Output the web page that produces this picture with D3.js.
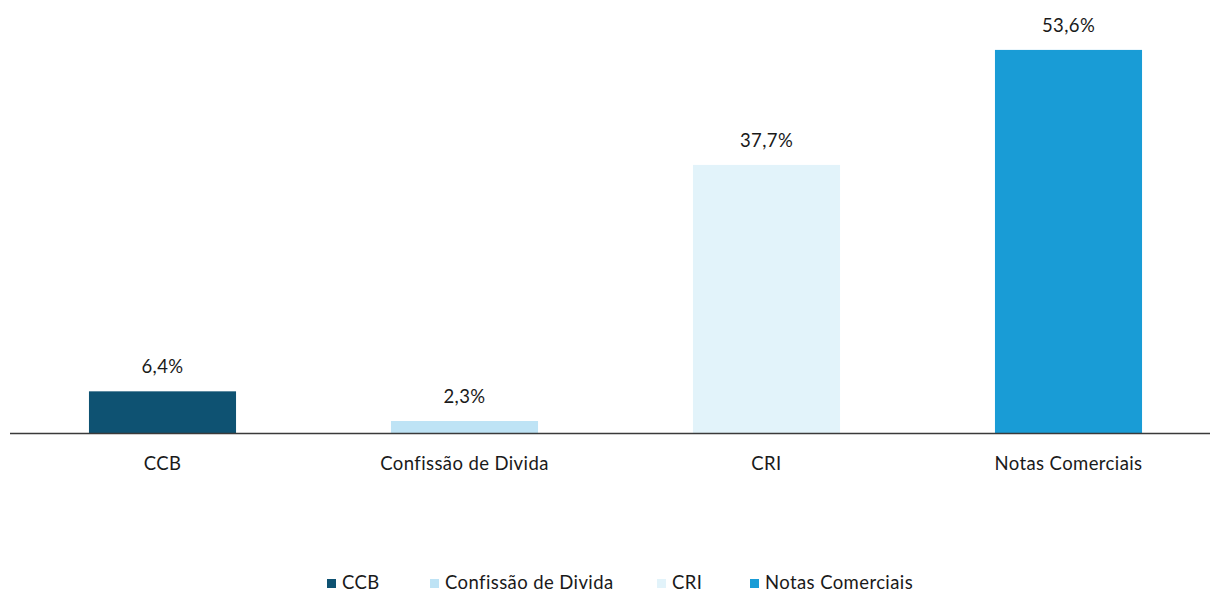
<!DOCTYPE html>
<html>
<head>
<meta charset="utf-8">
<script src="https://cdn.jsdelivr.net/npm/d3@7"></script>
<style>
  html, body { margin: 0; padding: 0; background: #ffffff; }
  svg { display: block; }
  text { font-family: Lato, "Open Sans", sans-serif; fill: #1a1a1a; letter-spacing: 0.4px; }
</style>
</head>
<body>
<svg id="chart" width="1210" height="592"></svg>
<script>
const categories = ["CCB", "Confissão de Divida", "CRI", "Notas Comerciais"];
const values = [6.4, 2.3, 37.7, 53.6];
const valueLabels = ["6,4%", "2,3%", "37,7%", "53,6%"];
const colors = ["#0E5272", "#BEE3F5", "#E2F3FA", "#199CD6"];

const W = 1210, H = 592;
const svg = d3.select("#chart");
const baseY = 433;
const FS = 18.5;

const x = d3.scaleBand()
  .domain(categories)
  .range([11.5, 1219.5])
  .paddingInner(0.513)
  .paddingOuter(0.2565);

const y = d3.scaleLinear()
  .domain([0.64, 60.5])
  .range([baseY, 0]);

const color = d3.scaleOrdinal().domain(categories).range(colors);

const data = categories.map((c, i) => ({ c, v: values[i], label: valueLabels[i] }));

// bars
svg.append("g").selectAll("rect")
  .data(data)
  .join("rect")
  .attr("x", d => x(d.c))
  .attr("y", d => y(d.v))
  .attr("width", x.bandwidth())
  .attr("height", d => baseY - y(d.v))
  .attr("fill", d => color(d.c));

// value labels
svg.append("g").selectAll("text")
  .data(data)
  .join("text")
  .attr("x", d => x(d.c) + x.bandwidth() / 2)
  .attr("y", d => y(d.v) - 18)
  .attr("text-anchor", "middle")
  .attr("font-size", FS)
  .text(d => d.label);

// x axis
const xAxis = d3.axisBottom(x).tickSize(0).tickPadding(0);
const gx = svg.append("g").attr("transform", `translate(0,${baseY})`).call(xAxis);
gx.select(".domain").remove();
gx.selectAll("text")
  .attr("font-size", FS)
  .attr("dy", null)
  .attr("y", 37)
  .style("font-family", "Lato")
  .attr("fill", "#1a1a1a");
svg.append("line")
  .attr("x1", 10).attr("x2", 1210)
  .attr("y1", baseY + 0.5).attr("y2", baseY + 0.5)
  .attr("stroke", "#3a3a3a").attr("stroke-width", 1.5);

// legend
const legendX = [327, 430, 657, 750];
const lg = svg.append("g").attr("transform", "translate(0,583)");
const items = lg.selectAll("g").data(categories).join("g")
  .attr("transform", (d, i) => `translate(${legendX[i]},0)`);
items.append("rect")
  .attr("x", 0).attr("y", -4).attr("width", 9).attr("height", 9)
  .attr("fill", d => color(d));
items.append("text")
  .attr("x", 15).attr("y", 0)
  .attr("dy", "0.35em")
  .attr("font-size", FS)
  .text(d => d);
</script>
</body>
</html>
